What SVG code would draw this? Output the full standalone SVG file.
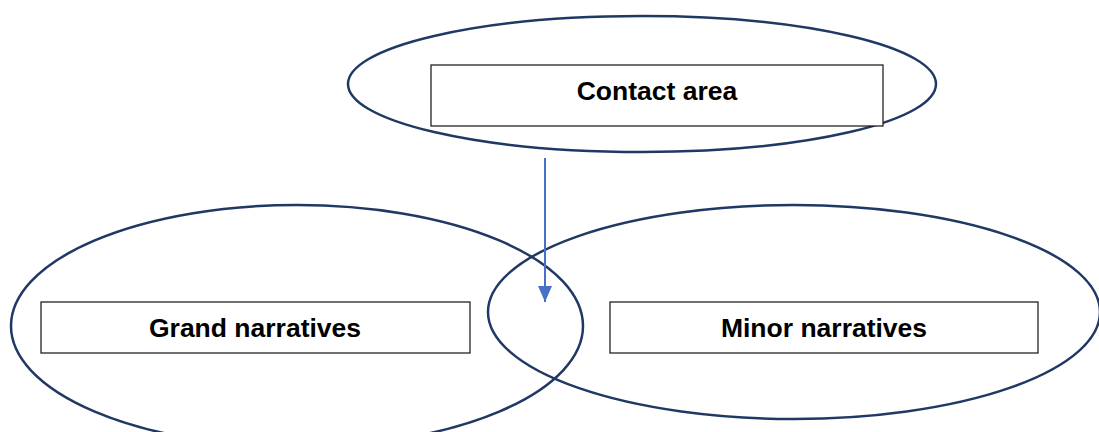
<svg xmlns="http://www.w3.org/2000/svg" width="1099" height="432" viewBox="0 0 1099 432">
<style>
.ell{fill:none;stroke:#203864;stroke-width:2.5}
.box{fill:#fff;stroke:#111;stroke-width:1.2}
.lbl{font-family:"Liberation Sans",Arial,sans-serif;font-weight:bold;font-size:26.5px;fill:#000;text-anchor:middle;dominant-baseline:central}
</style>
<defs>
<marker id="ah" markerWidth="16" markerHeight="14" refX="16" refY="7" orient="auto" markerUnits="userSpaceOnUse" viewBox="0 0 16 14"><path d="M0,0 L16,7 L0,14 z" fill="#4472C4"/></marker>
</defs>
<rect width="1099" height="432" fill="#fff"/>
<g id="contact">
<ellipse class="ell" cx="642" cy="84" rx="294" ry="68"/>
<rect class="box" x="431" y="65" width="452" height="61"/>
<text class="lbl" x="657" y="91">Contact area</text>
</g>
<g id="grand">
<ellipse class="ell" cx="297" cy="326" rx="286" ry="121"/>
<rect class="box" x="41" y="302" width="429" height="51"/>
<text class="lbl" x="255" y="328">Grand narratives</text>
</g>
<g id="minor">
<ellipse class="ell" cx="794" cy="312" rx="306" ry="107"/>
<rect class="box" x="610" y="302" width="428" height="51"/>
<text class="lbl" x="824" y="328">Minor narratives</text>
</g>
<g id="connectors">
<line x1="545" y1="158" x2="545" y2="302" stroke="#4472C4" stroke-width="2" marker-end="url(#ah)"/>
</g>
</svg>
